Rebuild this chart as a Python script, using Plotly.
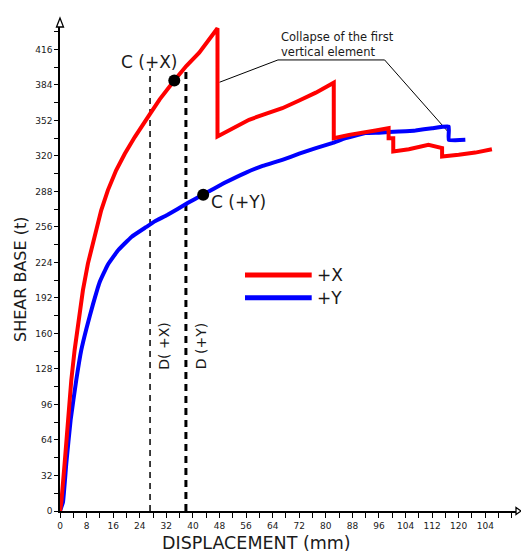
import plotly.graph_objects as go

# ---- data ----
x_pos_disp = [0, 0.4, 1.4, 2.4, 3.4, 4.4, 5.5, 6.9, 8.4, 10.4, 12.4, 14.4, 16.9, 19.5, 22.5, 26.9, 30, 34.4, 38, 41.9,
              45, 47.4,
              47.4, 52, 56.9, 61, 66.9, 72, 77, 82.4,
              82.4, 87, 91.9, 95, 98.9,
              98.9, 100.3, 100.3, 105, 110.9, 115, 115, 120, 125, 130]
x_pos_shear = [0, 8, 43, 82, 118, 145, 170, 199, 223, 247, 271, 289, 307, 322, 337, 357, 371, 388, 401, 413,
               425, 435,
               337.5, 345, 352.6, 357, 363, 370, 377, 386,
               336, 339, 341, 343, 345,
               336, 336, 324, 326, 330, 327, 319.5, 321, 323, 326]

y_pos_disp = [0, 0.9, 1.9, 3.2, 4.9, 6.4, 8.0, 9.9, 11.9, 14.4, 17.5, 21.5, 26, 28.5, 32.4, 38.4, 42.9, 49.4, 56, 61,
              66.9, 72, 77, 81.9, 86, 91.9, 96, 102, 107, 112, 117, 117, 122]
y_pos_shear = [0, 8, 43, 82, 118, 145, 165, 186, 206, 222, 235, 247, 256, 261, 267, 277.5, 285, 295.5, 305, 311,
               316.5, 322, 327, 331.5, 336, 340.6, 341, 342, 343, 345, 346.5, 334.5, 334.5]

c_points_x = [34.4, 43.1]
c_points_y = [388, 285]
c_labels = ["C (+X)", "C (+Y)"]

d_lines_x = [27.1, 37.9]
d_lines_top = [399, 397]
d_labels = ["D( +X)", "D (+Y)"]

leader_x = [48.0, 65.6, 97.7, 117.2]
leader_y = [386.4, 406.5, 406.5, 340.4]

x_tickvals = list(range(0, 129, 8))
x_ticktext = [str(v) for v in x_tickvals[:-1]] + ["104"]
y_tickvals = list(range(0, 417, 32))

FONT = "DejaVu Sans"
TXT = "#1a1a1a"

fig = go.Figure()

# dashed D lines
fig.add_trace(go.Scatter(x=[d_lines_x[0]] * 2, y=[0, d_lines_top[0]], mode="lines",
                         line=dict(color="black", width=1.5, dash="6px,5px"), showlegend=False, hoverinfo="skip"))
fig.add_trace(go.Scatter(x=[d_lines_x[1]] * 2, y=[0, d_lines_top[1]], mode="lines",
                         line=dict(color="black", width=3, dash="7px,5px"), showlegend=False, hoverinfo="skip"))

# leader line
fig.add_trace(go.Scatter(x=leader_x, y=leader_y, mode="lines", line=dict(color="black", width=1),
                         showlegend=False, hoverinfo="skip"))

# curves
fig.add_trace(go.Scatter(x=y_pos_disp, y=y_pos_shear, mode="lines", name="+Y",
                         line=dict(color="#0000ff", width=4, shape="spline", smoothing=0.3),
                         cliponaxis=False, showlegend=False))
fig.add_trace(go.Scatter(x=x_pos_disp, y=x_pos_shear, mode="lines", name="+X",
                         line=dict(color="#ff0000", width=4), cliponaxis=False, showlegend=False))

# C points
fig.add_trace(go.Scatter(x=c_points_x, y=c_points_y, mode="markers",
                         marker=dict(color="black", size=12), showlegend=False))

L, R, T, B = 60, 5, 27, 43
W, H = 521, 554
PW, PH = W - L - R, H - T - B
xmax = PW / 3.3225
ymax = PH / 1.1096


def px2x(px):
    return (px - L) / 3.3225


def py2y(py):
    return (H - B - py) / 1.1096


annotations = [
    dict(x=px2x(119), y=py2y(61.7), text=c_labels[0], xanchor="left", yanchor="middle", showarrow=False,
         font=dict(family=FONT, size=17, color=TXT)),
    dict(x=px2x(209), y=py2y(201.7), text=c_labels[1], xanchor="left", yanchor="middle", showarrow=False,
         font=dict(family=FONT, size=17, color=TXT)),
    dict(x=px2x(164), y=py2y(346.7), text=d_labels[0], textangle=-90, showarrow=False,
         font=dict(family=FONT, size=14, color=TXT)),
    dict(x=px2x(200.5), y=py2y(346.7), text=d_labels[1], textangle=-90, showarrow=False,
         font=dict(family=FONT, size=14, color=TXT)),
    dict(x=px2x(279), y=py2y(44), text="Collapse of the first<br>vertical element", xanchor="left", yanchor="middle",
         align="left", showarrow=False, font=dict(family=FONT, size=11.5, color=TXT)),
    dict(x=px2x(315), y=py2y(275), text="+X", xanchor="left", yanchor="middle", showarrow=False,
         font=dict(family=FONT, size=17, color=TXT)),
    dict(x=px2x(315), y=py2y(297.7), text="+Y", xanchor="left", yanchor="middle", showarrow=False,
         font=dict(family=FONT, size=17, color=TXT)),
    dict(xref="paper", yref="paper", x=(256.7 - L) / PW, y=((H - B) - 543) / PH,
         text="DISPLACEMENT (mm)", showarrow=False, xanchor="center", yanchor="middle",
         font=dict(family=FONT, size=17.5, color=TXT)),
    dict(xref="paper", yref="paper", x=(20 - L) / PW, y=((H - B) - 280) / PH,
         text="SHEAR BASE (t)", textangle=-90, showarrow=False, xanchor="center", yanchor="middle",
         font=dict(family=FONT, size=16, color=TXT)),
]

shapes = [
    dict(type="line", x0=px2x(245), x1=px2x(311.7), y0=py2y(275), y1=py2y(275),
         line=dict(color="#ff0000", width=5)),
    dict(type="line", x0=px2x(245), x1=px2x(311.7), y0=py2y(297.7), y1=py2y(297.7),
         line=dict(color="#0000ff", width=5)),
    # axis arrowheads (open triangles)
    dict(type="path", xref="paper", yref="paper",
         path="M {a},{b} L {c},{d} L {e},{b} Z".format(
             a=-3.5 / PW, b=1.0, c=0.0, d=1.0 + 9 / PH, e=3.5 / PW),
         line=dict(color="black", width=1.3), fillcolor="white"),
    dict(type="path", xref="paper", yref="paper",
         path="M {a},{b} L {c},{d} L {a},{e} Z".format(
             a=1.0, b=-3.5 / PH, c=1.0 + 5 / PW, d=0.0, e=3.5 / PH),
         line=dict(color="black", width=1.3), fillcolor="white"),
]

fig.update_layout(
    width=W, height=H,
    margin=dict(l=L, r=R, t=T, b=B, pad=0),
    paper_bgcolor="white", plot_bgcolor="white",
    showlegend=False,
    annotations=annotations,
    shapes=shapes,
    xaxis=dict(range=[0, xmax], tickmode="array", tickvals=x_tickvals, ticktext=x_ticktext,
               ticks="outside", ticklen=5, tickwidth=1.2, tickcolor="black",
               showline=True, linecolor="black", linewidth=1.5, showgrid=False, zeroline=False,
               tickfont=dict(family=FONT, size=9, color=TXT),
               minor=dict(tickmode="linear", tick0=0, dtick=4, ticks="outside", ticklen=5, tickcolor="black",
                          tickwidth=1.2, showgrid=False),
               fixedrange=True),
    yaxis=dict(range=[0, ymax], tickmode="array", tickvals=y_tickvals,
               ticks="outside", ticklen=4, tickwidth=1.2, tickcolor="black",
               showline=True, linecolor="black", linewidth=1.5, showgrid=False, zeroline=False,
               tickfont=dict(family=FONT, size=9, color=TXT),
               minor=dict(tickmode="linear", tick0=0, dtick=16, ticks="outside", ticklen=4, tickcolor="black",
                          tickwidth=1.2, showgrid=False),
               fixedrange=True),
)

fig.write_html("out.html")
